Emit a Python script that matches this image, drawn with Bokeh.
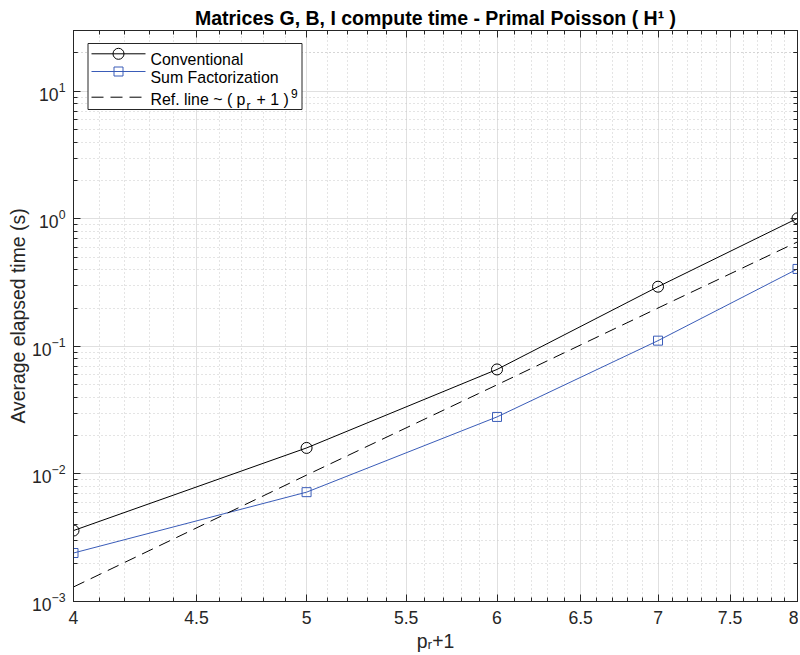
import math
from bokeh.plotting import figure
from bokeh.models import (FixedTicker, Range1d, LinearScale, Label, LogAxis,
                          CustomJSTickFormatter, LogTickFormatter)
from bokeh.embed import file_html
from bokeh.resources import INLINE

# ---------------- data ----------------
x_vals = [4, 5, 6, 7, 8]
conventional = [3.6e-3, 1.6e-2, 6.6e-2, 2.94e-1, 1.01]
sum_factorization = [2.4e-3, 7.2e-3, 2.8e-2, 1.11e-1, 4.05e-1]
ref_line = [1.3e-3, 9.8e-3, 5.0e-2, 2.0e-1, 6.6e-1]

x_major = [4, 4.5, 5, 5.5, 6, 6.5, 7, 7.5, 8]
x_labels = ["4", "4.5", "5", "5.5", "6", "6.5", "7", "7.5", "8"]
x_minor = [round(4 + 0.1 * i, 1) for i in range(1, 40) if i % 5 != 0]
y_major = [1e-3, 1e-2, 1e-1, 1e0, 1e1]
y_minor = [m * 10.0 ** e for e in range(-3, 2) for m in range(2, 10)] + [20.0, 30.0]

title_text = "Matrices G, B, I compute time - Primal Poisson ( H\u00b9 )"
ylabel = "Average elapsed time (s)"
xlabel = "p\u1d63+1"
legend_names = ["Conventional", "Sum Factorization"]

FONT = "Liberation Sans"
AX = "#262626"
BLUE = "#3a5cb8"

p = figure(width=798, height=654, x_axis_type="log", y_axis_type="log",
           x_range=Range1d(4, 8), y_range=Range1d(1e-3, 30),
           output_backend="svg", toolbar_location=None,
           min_border_left=73, min_border_right=1, min_border_top=30, min_border_bottom=53)
p.background_fill_color = "white"
p.border_fill_color = "white"
p.outline_line_color = AX

p.title.text = title_text
p.title.text_font = FONT
p.title.text_font_size = "19.5px"
p.title.text_font_style = "bold"
p.title.text_color = "black"
p.title.align = "center"
p.title.standoff = 3

xt = FixedTicker(ticks=x_major, minor_ticks=x_minor)
yt = FixedTicker(ticks=y_major, minor_ticks=y_minor)
blank = CustomJSTickFormatter(code="return '';")
xfmt = CustomJSTickFormatter(args=dict(tvals=x_major, tlabels=x_labels), code="""
for (let i = 0; i < tvals.length; i++) { if (Math.abs(tvals[i] - tick) < 1e-9) return tlabels[i]; }
return '';
""")

def style_axis(ax):
    ax.axis_line_color = AX
    ax.major_tick_line_color = AX
    ax.minor_tick_line_color = AX
    ax.major_tick_in = 7
    ax.major_tick_out = 0
    ax.minor_tick_in = 4
    ax.minor_tick_out = 0

xa = p.xaxis[0]
ya = p.yaxis[0]
xa.ticker = xt
xa.formatter = xfmt
xa.major_label_text_font = FONT
xa.major_label_text_font_size = "17.6px"
xa.major_label_text_color = AX
xa.major_label_standoff = 9
xa.axis_label = xlabel
xa.axis_label_text_font = FONT
xa.axis_label_text_font_size = "19.4px"
xa.axis_label_text_font_style = "normal"
xa.axis_label_text_color = AX
xa.axis_label_standoff = 3
style_axis(xa)

ya.ticker = yt
ya.formatter = LogTickFormatter()
ya.major_label_text_font = FONT
ya.major_label_text_font_size = "17.6px"
ya.major_label_text_color = AX
ya.major_label_standoff = 8
ya.axis_label = ylabel
ya.axis_label_text_font = FONT
ya.axis_label_text_font_size = "19.4px"
ya.axis_label_text_font_style = "normal"
ya.axis_label_text_color = AX
ya.axis_label_standoff = 0
style_axis(ya)

top = LogAxis(ticker=xt, formatter=blank, major_label_standoff=0, major_label_text_font_size="1px")
right = LogAxis(ticker=yt, formatter=blank, major_label_standoff=0, major_label_text_font_size="1px")
style_axis(top)
style_axis(right)
p.add_layout(top, "above")
p.add_layout(right, "right")

for g, t in ((p.xgrid[0], xt), (p.ygrid[0], yt)):
    g.ticker = t
    g.grid_line_color = "#e0e0e0"
    g.grid_line_width = 1
    g.minor_grid_line_color = "#c8c8c8"
    g.minor_grid_line_dash = "1 3"
    g.minor_grid_line_width = 1

# ---------------- series ----------------
p.line(x_vals, conventional, line_color="black", line_width=1)
p.scatter(x_vals, conventional, marker="circle", size=11, fill_color=None, line_color="black", line_width=1)
p.line(x_vals, sum_factorization, line_color=BLUE, line_width=1)
p.scatter(x_vals, sum_factorization, marker="square", size=9, fill_color=None, line_color=BLUE, line_width=1)
p.line(x_vals, ref_line, line_color="black", line_width=1, line_dash="12 7")

# pixel-like coordinate system over the frame, used only for the legend box layout
p.extra_x_ranges = {"px": Range1d(73, 797)}
p.extra_y_ranges = {"py": Range1d(601, 30)}
p.extra_x_scales = {"px": LinearScale()}
p.extra_y_scales = {"py": LinearScale()}

def lab(x, y, text, size, bold=False, align="left", baseline="alphabetic", color="black"):
    p.add_layout(Label(x=x, y=y, text=text, x_range_name="px", y_range_name="py",
                       text_font=FONT, text_font_size=f"{size}px",
                       text_font_style="bold" if bold else "normal",
                       text_align=align, text_baseline=baseline, text_color=color))

# legend
p.quad(left=[87.5], right=[301.5], top=[43], bottom=[109], x_range_name="px", y_range_name="py",
       fill_color="white", line_color=AX, line_width=1)
p.segment(x0=[91], x1=[145], y0=[53.3], y1=[53.3], x_range_name="px", y_range_name="py",
          line_color="black", line_width=1)
p.scatter(x=[118], y=[53.3], marker="circle", size=11, fill_color=None, line_color="black",
          x_range_name="px", y_range_name="py")
p.segment(x0=[91], x1=[145], y0=[71], y1=[71], x_range_name="px", y_range_name="py",
          line_color=BLUE, line_width=1)
p.scatter(x=[118], y=[71], marker="square", size=9, fill_color=None, line_color=BLUE,
          x_range_name="px", y_range_name="py")
p.segment(x0=[91], x1=[145], y0=[96.7], y1=[96.7], x_range_name="px", y_range_name="py",
          line_color="black", line_width=1, line_dash="12 7")
lab(150, 58.5, legend_names[0], 15.9)
lab(150, 76.5, legend_names[1], 15.9)
lab(150, 99, "Ref. line ~ ( p", 15.9)
lab(246, 105.5, "r", 12)
lab(256, 99, "+ 1 )", 15.9)
lab(290.5, 93, "9", 12)

open("out.html", "w").write(file_html(p, INLINE))
